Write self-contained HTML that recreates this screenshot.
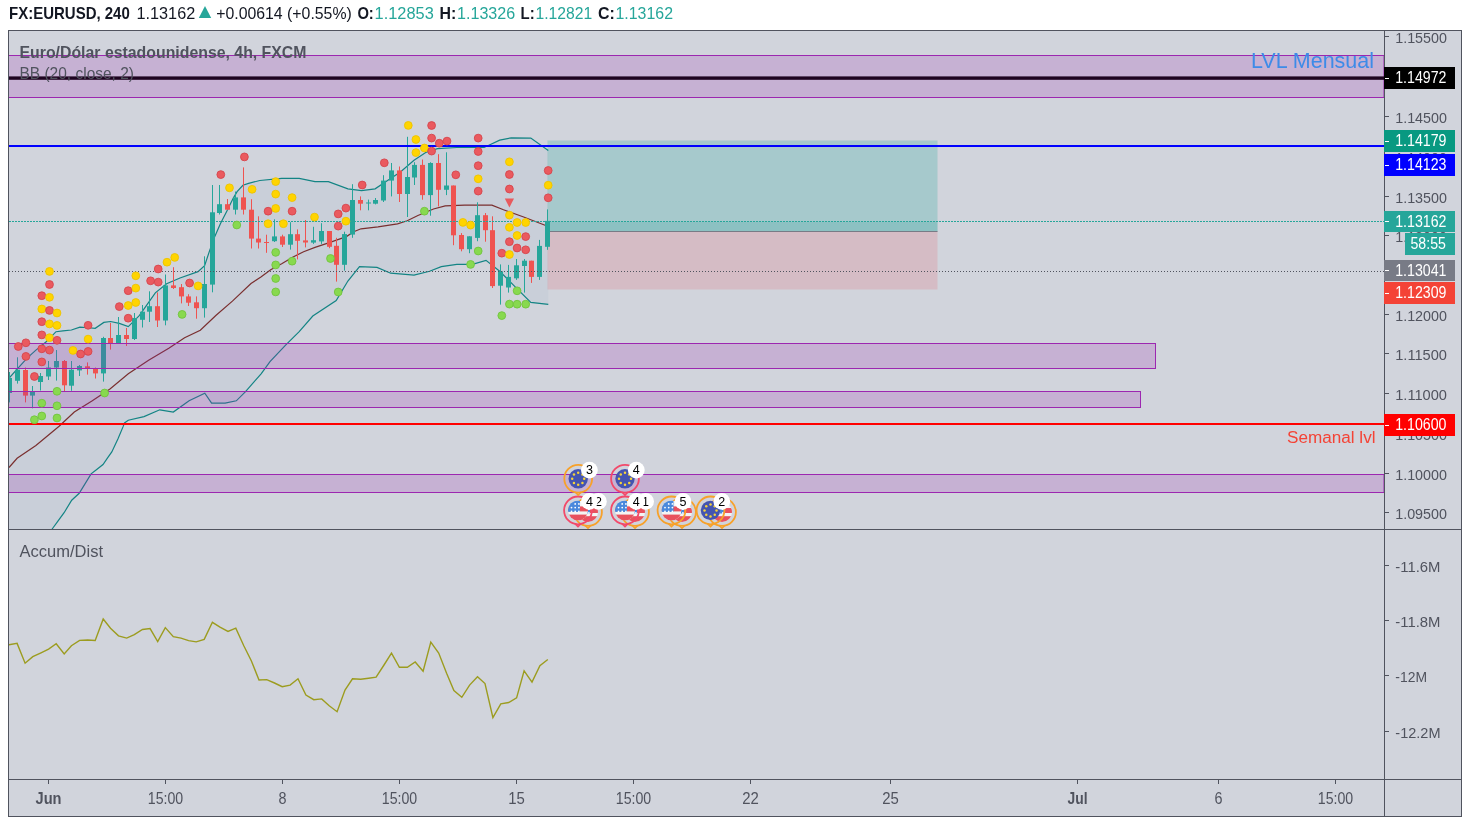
<!DOCTYPE html>
<html><head><meta charset="utf-8"><title>FX:EURUSD</title>
<style>
html,body{margin:0;padding:0;background:#fff;width:1470px;height:822px;overflow:hidden}
svg{display:block;will-change:transform}
text{font-family:"Liberation Sans", sans-serif}
</style></head><body>
<svg width="1470" height="822" viewBox="0 0 1470 822">
<rect x="0" y="0" width="1470" height="822" fill="#ffffff"/>
<rect x="8" y="30" width="1454" height="787" fill="#D1D4DC"/>

<defs><clipPath id="cm"><rect x="9" y="31" width="1375" height="498"/></clipPath><clipPath id="ci"><rect x="9" y="530" width="1375" height="249"/></clipPath></defs>
<g clip-path="url(#cm)">
<polygon points="8.7,378.5 17.8,368.3 27.1,358.1 35.6,350.4 45.9,342.0 54.4,333.4 56.0,331.7 62.9,330.9 71.4,330.0 79.9,327.1 86.7,327.5 95.2,328.3 103.8,322.4 110.6,321.5 119.3,323.4 128.3,326.6 139.5,315.3 155.3,292.8 166.6,283.8 180.0,278.0 198.0,271.6 204.6,265.7 209.7,250.4 214.8,236.4 220.5,223.6 226.9,210.9 233.3,198.1 237.1,191.7 242.9,185.3 248.6,183.4 259.8,180.5 281.7,178.3 299.2,178.3 315.0,181.6 328.4,181.7 347.9,188.8 361.5,190.7 375.1,188.8 386.8,181.0 400.4,172.0 414.0,160.3 425.7,152.5 437.4,148.7 456.8,147.5 484.1,147.5 499.7,140.1 511.3,137.8 530.8,138.1 548.3,150.6 548.3,304.4 530.8,302.4 515.2,286.8 499.7,271.3 486.0,260.4 472.4,264.3 456.8,264.3 441.3,266.6 429.6,271.3 414.0,275.2 390.7,273.2 377.0,267.4 359.5,266.6 347.9,281.0 336.2,300.5 312.8,316.0 299.2,331.6 285.6,345.2 270.0,361.6 261.1,373.8 245.3,391.8 236.3,400.8 225.1,403.1 211.6,403.1 204.8,393.2 189.1,400.8 173.3,412.1 159.8,409.8 144.0,416.6 128.3,420.2 124.5,423.0 123.0,426.9 118.0,438.8 111.8,451.9 107.4,458.2 103.0,464.5 96.7,469.5 91.1,473.9 79.2,493.3 71.7,500.2 64.1,512.7 57.2,522.1 52.9,528.0 45.0,540.0 30.0,580.0 9.0,620.0" fill="#C9CFD9" stroke="none"/>
<rect x="547.5" y="140.5" width="390" height="91" fill="rgba(38,166,154,0.25)"/>
<rect x="547.5" y="221.5" width="390" height="10" fill="rgba(38,166,154,0.2)"/>
<rect x="547.5" y="231.5" width="390" height="58" fill="rgba(242,54,69,0.15)"/>
<line x1="547.5" y1="231.5" x2="937.5" y2="231.5" stroke="#787B86" stroke-width="1"/>
<polyline points="8.7,378.5 17.8,368.3 27.1,358.1 35.6,350.4 45.9,342.0 54.4,333.4 56.0,331.7 62.9,330.9 71.4,330.0 79.9,327.1 86.7,327.5 95.2,328.3 103.8,322.4 110.6,321.5 119.3,323.4 128.3,326.6 139.5,315.3 155.3,292.8 166.6,283.8 180.0,278.0 198.0,271.6 204.6,265.7 209.7,250.4 214.8,236.4 220.5,223.6 226.9,210.9 233.3,198.1 237.1,191.7 242.9,185.3 248.6,183.4 259.8,180.5 281.7,178.3 299.2,178.3 315.0,181.6 328.4,181.7 347.9,188.8 361.5,190.7 375.1,188.8 386.8,181.0 400.4,172.0 414.0,160.3 425.7,152.5 437.4,148.7 456.8,147.5 484.1,147.5 499.7,140.1 511.3,137.8 530.8,138.1 548.3,150.6" fill="none" stroke="#138484" stroke-width="1.2"/>
<polyline points="9.0,620.0 30.0,580.0 45.0,540.0 52.9,528.0 57.2,522.1 64.1,512.7 71.7,500.2 79.2,493.3 91.1,473.9 96.7,469.5 103.0,464.5 107.4,458.2 111.8,451.9 118.0,438.8 123.0,426.9 124.5,423.0 128.3,420.2 144.0,416.6 159.8,409.8 173.3,412.1 189.1,400.8 204.8,393.2 211.6,403.1 225.1,403.1 236.3,400.8 245.3,391.8 261.1,373.8 270.0,361.6 285.6,345.2 299.2,331.6 312.8,316.0 336.2,300.5 347.9,281.0 359.5,266.6 377.0,267.4 390.7,273.2 414.0,275.2 429.6,271.3 441.3,266.6 456.8,264.3 472.4,264.3 486.0,260.4 499.7,271.3 515.2,286.8 530.8,302.4 548.3,304.4" fill="none" stroke="#138484" stroke-width="1.2"/>
<polyline points="9.0,467.5 17.1,458.3 35.9,445.5 59.1,426.3 74.3,412.1 92.3,400.8 110.3,388.7 128.3,373.8 148.6,360.3 168.8,348.2 184.6,337.8 200.3,330.2 216.1,315.3 232.4,301.1 251.0,283.5 260.9,277.0 270.7,269.7 281.7,263.8 292.6,257.2 303.6,251.8 315.0,247.4 329.3,242.6 346.4,236.6 353.7,231.7 361.0,228.8 378.0,226.8 397.5,223.9 407.2,220.7 417.9,215.5 433.5,209.0 445.2,205.9 464.6,205.1 491.9,205.1 503.5,209.8 523.0,216.8 548.3,226.5" fill="none" stroke="#7A2F2F" stroke-width="1.2"/>
<rect x="9" y="372.0" width="1" height="30.4" fill="#26A69A"/>
<rect x="7" y="378.0" width="5" height="15.0" fill="#26A69A"/>
<rect x="17" y="357.3" width="1" height="26.3" fill="#26A69A"/>
<rect x="15" y="369.7" width="5" height="11.1" fill="#26A69A"/>
<rect x="25" y="367.5" width="1" height="34.9" fill="#EF5350"/>
<rect x="23" y="370.0" width="5" height="25.6" fill="#EF5350"/>
<rect x="32" y="386.0" width="1" height="22.3" fill="#26A69A"/>
<rect x="30" y="391.8" width="5" height="3.8" fill="#26A69A"/>
<rect x="40" y="373.0" width="1" height="17.5" fill="#26A69A"/>
<rect x="38" y="376.0" width="5" height="6.0" fill="#26A69A"/>
<rect x="48" y="361.0" width="1" height="19.0" fill="#26A69A"/>
<rect x="46" y="367.5" width="5" height="9.0" fill="#26A69A"/>
<rect x="56" y="350.0" width="1" height="30.6" fill="#26A69A"/>
<rect x="54" y="361.0" width="5" height="6.5" fill="#26A69A"/>
<rect x="64" y="360.0" width="1" height="32.0" fill="#EF5350"/>
<rect x="62" y="361.0" width="5" height="24.3" fill="#EF5350"/>
<rect x="71" y="361.0" width="1" height="29.8" fill="#26A69A"/>
<rect x="69" y="369.7" width="5" height="16.0" fill="#26A69A"/>
<rect x="79" y="365.0" width="1" height="11.0" fill="#26A69A"/>
<rect x="77" y="366.0" width="5" height="4.4" fill="#26A69A"/>
<rect x="87" y="362.4" width="1" height="12.2" fill="#EF5350"/>
<rect x="85" y="366.3" width="5" height="1.7" fill="#EF5350"/>
<rect x="95" y="367.5" width="1" height="11.0" fill="#EF5350"/>
<rect x="93" y="368.7" width="5" height="4.7" fill="#EF5350"/>
<rect x="103" y="336.8" width="1" height="44.8" fill="#26A69A"/>
<rect x="101" y="338.0" width="5" height="35.4" fill="#26A69A"/>
<rect x="110" y="323.0" width="1" height="26.6" fill="#EF5350"/>
<rect x="108" y="338.0" width="5" height="5.0" fill="#EF5350"/>
<rect x="118" y="317.0" width="1" height="26.0" fill="#26A69A"/>
<rect x="116" y="335.0" width="5" height="8.0" fill="#26A69A"/>
<rect x="126" y="328.0" width="1" height="18.0" fill="#EF5350"/>
<rect x="124" y="335.0" width="5" height="4.0" fill="#EF5350"/>
<rect x="134" y="313.0" width="1" height="27.0" fill="#26A69A"/>
<rect x="132" y="318.0" width="5" height="21.0" fill="#26A69A"/>
<rect x="142" y="305.0" width="1" height="22.5" fill="#26A69A"/>
<rect x="140" y="311.7" width="5" height="8.1" fill="#26A69A"/>
<rect x="149" y="291.3" width="1" height="30.7" fill="#26A69A"/>
<rect x="147" y="306.2" width="5" height="5.5" fill="#26A69A"/>
<rect x="157" y="292.4" width="1" height="34.6" fill="#EF5350"/>
<rect x="155" y="306.2" width="5" height="14.3" fill="#EF5350"/>
<rect x="165" y="274.5" width="1" height="50.8" fill="#26A69A"/>
<rect x="163" y="285.4" width="5" height="35.1" fill="#26A69A"/>
<rect x="173" y="267.2" width="1" height="21.8" fill="#EF5350"/>
<rect x="171" y="285.4" width="5" height="2.6" fill="#EF5350"/>
<rect x="181" y="284.0" width="1" height="19.4" fill="#EF5350"/>
<rect x="179" y="287.2" width="5" height="9.2" fill="#EF5350"/>
<rect x="188" y="294.2" width="1" height="11.8" fill="#EF5350"/>
<rect x="186" y="296.4" width="5" height="6.3" fill="#EF5350"/>
<rect x="196" y="296.4" width="1" height="22.3" fill="#EF5350"/>
<rect x="194" y="302.3" width="5" height="5.9" fill="#EF5350"/>
<rect x="204" y="256.3" width="1" height="61.3" fill="#26A69A"/>
<rect x="202" y="284.0" width="5" height="24.2" fill="#26A69A"/>
<rect x="212" y="185.0" width="1" height="107.3" fill="#26A69A"/>
<rect x="210" y="212.3" width="5" height="72.3" fill="#26A69A"/>
<rect x="219" y="185.0" width="1" height="29.5" fill="#26A69A"/>
<rect x="217" y="204.2" width="5" height="8.8" fill="#26A69A"/>
<rect x="227" y="199.0" width="1" height="10.7" fill="#EF5350"/>
<rect x="225" y="204.2" width="5" height="5.5" fill="#EF5350"/>
<rect x="235" y="191.5" width="1" height="23.0" fill="#26A69A"/>
<rect x="233" y="197.4" width="5" height="12.3" fill="#26A69A"/>
<rect x="243" y="167.4" width="1" height="47.1" fill="#EF5350"/>
<rect x="241" y="197.4" width="5" height="12.3" fill="#EF5350"/>
<rect x="251" y="199.2" width="1" height="49.3" fill="#EF5350"/>
<rect x="249" y="209.7" width="5" height="28.9" fill="#EF5350"/>
<rect x="258" y="216.3" width="1" height="32.2" fill="#EF5350"/>
<rect x="256" y="238.6" width="5" height="3.9" fill="#EF5350"/>
<rect x="266" y="234.7" width="1" height="18.1" fill="#EF5350"/>
<rect x="264" y="242.0" width="5" height="1.0" fill="#EF5350"/>
<rect x="274" y="219.3" width="1" height="22.7" fill="#26A69A"/>
<rect x="272" y="236.4" width="5" height="4.8" fill="#26A69A"/>
<rect x="282" y="234.7" width="1" height="12.3" fill="#EF5350"/>
<rect x="280" y="236.4" width="5" height="8.3" fill="#EF5350"/>
<rect x="290" y="222.2" width="1" height="27.4" fill="#26A69A"/>
<rect x="288" y="234.2" width="5" height="10.5" fill="#26A69A"/>
<rect x="297" y="229.4" width="1" height="30.0" fill="#EF5350"/>
<rect x="295" y="234.2" width="5" height="6.6" fill="#EF5350"/>
<rect x="305" y="220.0" width="1" height="27.4" fill="#EF5350"/>
<rect x="303" y="240.4" width="5" height="2.1" fill="#EF5350"/>
<rect x="313" y="226.8" width="1" height="17.1" fill="#26A69A"/>
<rect x="311" y="240.2" width="5" height="2.4" fill="#26A69A"/>
<rect x="321" y="223.2" width="1" height="20.7" fill="#26A69A"/>
<rect x="319" y="231.0" width="5" height="10.4" fill="#26A69A"/>
<rect x="329" y="231.0" width="1" height="17.2" fill="#EF5350"/>
<rect x="327" y="231.0" width="5" height="15.8" fill="#EF5350"/>
<rect x="336" y="237.8" width="1" height="43.8" fill="#EF5350"/>
<rect x="334" y="245.8" width="5" height="19.0" fill="#EF5350"/>
<rect x="344" y="231.7" width="1" height="38.9" fill="#26A69A"/>
<rect x="342" y="234.1" width="5" height="30.7" fill="#26A69A"/>
<rect x="352" y="184.2" width="1" height="53.6" fill="#26A69A"/>
<rect x="350" y="200.0" width="5" height="34.6" fill="#26A69A"/>
<rect x="360" y="196.4" width="1" height="13.9" fill="#EF5350"/>
<rect x="358" y="200.0" width="5" height="3.7" fill="#EF5350"/>
<rect x="368" y="199.6" width="1" height="10.7" fill="#26A69A"/>
<rect x="366" y="202.5" width="5" height="1.0" fill="#26A69A"/>
<rect x="375" y="198.0" width="1" height="6.4" fill="#26A69A"/>
<rect x="373" y="200.0" width="5" height="3.7" fill="#26A69A"/>
<rect x="383" y="175.2" width="1" height="26.8" fill="#26A69A"/>
<rect x="381" y="180.6" width="5" height="19.9" fill="#26A69A"/>
<rect x="391" y="163.0" width="1" height="33.4" fill="#26A69A"/>
<rect x="389" y="170.4" width="5" height="10.2" fill="#26A69A"/>
<rect x="399" y="166.5" width="1" height="35.5" fill="#EF5350"/>
<rect x="397" y="170.4" width="5" height="23.6" fill="#EF5350"/>
<rect x="407" y="136.8" width="1" height="80.2" fill="#26A69A"/>
<rect x="405" y="177.0" width="5" height="17.0" fill="#26A69A"/>
<rect x="414" y="162.2" width="1" height="22.8" fill="#26A69A"/>
<rect x="412" y="164.9" width="5" height="12.6" fill="#26A69A"/>
<rect x="422" y="159.5" width="1" height="40.2" fill="#EF5350"/>
<rect x="420" y="164.9" width="5" height="30.2" fill="#EF5350"/>
<rect x="430" y="162.2" width="1" height="53.5" fill="#26A69A"/>
<rect x="428" y="163.0" width="5" height="32.1" fill="#26A69A"/>
<rect x="438" y="154.2" width="1" height="52.2" fill="#EF5350"/>
<rect x="436" y="163.0" width="5" height="26.8" fill="#EF5350"/>
<rect x="446" y="152.3" width="1" height="42.8" fill="#26A69A"/>
<rect x="444" y="185.5" width="5" height="4.3" fill="#26A69A"/>
<rect x="453" y="185.5" width="1" height="59.7" fill="#EF5350"/>
<rect x="451" y="185.5" width="5" height="49.8" fill="#EF5350"/>
<rect x="461" y="233.1" width="1" height="18.2" fill="#EF5350"/>
<rect x="459" y="235.0" width="5" height="14.2" fill="#EF5350"/>
<rect x="469" y="236.3" width="1" height="16.9" fill="#26A69A"/>
<rect x="467" y="236.3" width="5" height="12.9" fill="#26A69A"/>
<rect x="477" y="202.3" width="1" height="38.9" fill="#26A69A"/>
<rect x="475" y="215.2" width="5" height="22.7" fill="#26A69A"/>
<rect x="485" y="213.0" width="1" height="28.7" fill="#EF5350"/>
<rect x="483" y="215.2" width="5" height="15.0" fill="#EF5350"/>
<rect x="492" y="216.3" width="1" height="71.7" fill="#EF5350"/>
<rect x="490" y="230.2" width="5" height="55.9" fill="#EF5350"/>
<rect x="500" y="264.4" width="1" height="40.2" fill="#26A69A"/>
<rect x="498" y="271.3" width="5" height="14.4" fill="#26A69A"/>
<rect x="508" y="264.9" width="1" height="27.7" fill="#26A69A"/>
<rect x="506" y="276.9" width="5" height="10.6" fill="#26A69A"/>
<rect x="516" y="259.0" width="1" height="20.9" fill="#26A69A"/>
<rect x="514" y="265.3" width="5" height="13.0" fill="#26A69A"/>
<rect x="524" y="259.0" width="1" height="33.6" fill="#26A69A"/>
<rect x="522" y="260.7" width="5" height="5.3" fill="#26A69A"/>
<rect x="531" y="260.7" width="1" height="22.2" fill="#EF5350"/>
<rect x="529" y="260.7" width="5" height="16.2" fill="#EF5350"/>
<rect x="539" y="239.9" width="1" height="40.0" fill="#26A69A"/>
<rect x="537" y="245.9" width="5" height="31.0" fill="#26A69A"/>
<rect x="547" y="209.4" width="1" height="40.4" fill="#26A69A"/>
<rect x="545" y="220.9" width="5" height="25.9" fill="#26A69A"/>
<rect x="8" y="55.5" width="1376" height="42" fill="rgba(156,39,176,0.2)" stroke="#9C27B0" stroke-width="1"/>
<rect x="8" y="343.5" width="1147.5" height="25" fill="rgba(156,39,176,0.2)" stroke="#9C27B0" stroke-width="1"/>
<rect x="8" y="391.5" width="1132.5" height="16" fill="rgba(156,39,176,0.2)" stroke="#9C27B0" stroke-width="1"/>
<rect x="8" y="474.5" width="1376" height="18" fill="rgba(156,39,176,0.2)" stroke="#9C27B0" stroke-width="1"/>
<rect x="8" y="76.4" width="1376" height="3.4" fill="#1E0420"/>
<rect x="8" y="145" width="1376" height="2" fill="#0000FF"/>
<rect x="8" y="423" width="1376" height="2" fill="#FF0000"/>
<line x1="9" y1="221.5" x2="1384" y2="221.5" stroke="#26A69A" stroke-width="1" stroke-dasharray="2 1"/>
<line x1="9" y1="271.5" x2="1384" y2="271.5" stroke="#50535E" stroke-width="1" stroke-dasharray="1 2"/>
<circle cx="18.3" cy="346.5" r="3.9" fill="#EA5A5F" stroke="#D6454D" stroke-width="0.9"/>
<circle cx="25.9" cy="342.8" r="3.9" fill="#EA5A5F" stroke="#D6454D" stroke-width="0.9"/>
<circle cx="25.9" cy="356.4" r="3.9" fill="#EA5A5F" stroke="#D6454D" stroke-width="0.9"/>
<circle cx="34.4" cy="376.5" r="3.9" fill="#EA5A5F" stroke="#D6454D" stroke-width="0.9"/>
<circle cx="34.4" cy="419.7" r="3.9" fill="#88D94F" stroke="#72C43E" stroke-width="0.9"/>
<circle cx="41.8" cy="295.7" r="3.9" fill="#EA5A5F" stroke="#D6454D" stroke-width="0.9"/>
<circle cx="41.8" cy="309.0" r="3.9" fill="#FFD400" stroke="#EDC300" stroke-width="0.9"/>
<circle cx="41.8" cy="321.7" r="3.9" fill="#EA5A5F" stroke="#D6454D" stroke-width="0.9"/>
<circle cx="41.8" cy="334.9" r="3.9" fill="#EA5A5F" stroke="#D6454D" stroke-width="0.9"/>
<circle cx="41.8" cy="348.8" r="3.9" fill="#EA5A5F" stroke="#D6454D" stroke-width="0.9"/>
<circle cx="41.8" cy="361.9" r="3.9" fill="#EA5A5F" stroke="#D6454D" stroke-width="0.9"/>
<circle cx="41.8" cy="403.2" r="3.9" fill="#88D94F" stroke="#72C43E" stroke-width="0.9"/>
<circle cx="41.8" cy="416.0" r="3.9" fill="#88D94F" stroke="#72C43E" stroke-width="0.9"/>
<circle cx="49.5" cy="271.4" r="3.9" fill="#FFD400" stroke="#EDC300" stroke-width="0.9"/>
<circle cx="49.5" cy="284.5" r="3.9" fill="#EA5A5F" stroke="#D6454D" stroke-width="0.9"/>
<circle cx="49.5" cy="297.3" r="3.9" fill="#FFD400" stroke="#EDC300" stroke-width="0.9"/>
<circle cx="49.5" cy="310.4" r="3.9" fill="#EA5A5F" stroke="#D6454D" stroke-width="0.9"/>
<circle cx="49.5" cy="323.9" r="3.9" fill="#FFD400" stroke="#EDC300" stroke-width="0.9"/>
<circle cx="49.5" cy="337.7" r="3.9" fill="#FFD400" stroke="#EDC300" stroke-width="0.9"/>
<circle cx="49.5" cy="350.1" r="3.9" fill="#EA5A5F" stroke="#D6454D" stroke-width="0.9"/>
<circle cx="57.0" cy="313.0" r="3.9" fill="#FFD400" stroke="#EDC300" stroke-width="0.9"/>
<circle cx="57.0" cy="325.4" r="3.9" fill="#FFD400" stroke="#EDC300" stroke-width="0.9"/>
<circle cx="57.0" cy="340.3" r="3.9" fill="#EA5A5F" stroke="#D6454D" stroke-width="0.9"/>
<circle cx="57.0" cy="391.3" r="3.9" fill="#88D94F" stroke="#72C43E" stroke-width="0.9"/>
<circle cx="57.0" cy="405.8" r="3.9" fill="#88D94F" stroke="#72C43E" stroke-width="0.9"/>
<circle cx="57.0" cy="418.0" r="3.9" fill="#88D94F" stroke="#72C43E" stroke-width="0.9"/>
<circle cx="73.0" cy="350.4" r="3.9" fill="#FFD400" stroke="#EDC300" stroke-width="0.9"/>
<circle cx="80.6" cy="354.0" r="3.9" fill="#EA5A5F" stroke="#D6454D" stroke-width="0.9"/>
<circle cx="88.1" cy="325.3" r="3.9" fill="#EA5A5F" stroke="#D6454D" stroke-width="0.9"/>
<circle cx="88.1" cy="339.1" r="3.9" fill="#FFD400" stroke="#EDC300" stroke-width="0.9"/>
<circle cx="88.1" cy="351.4" r="3.9" fill="#EA5A5F" stroke="#D6454D" stroke-width="0.9"/>
<circle cx="104.6" cy="393.0" r="3.9" fill="#88D94F" stroke="#72C43E" stroke-width="0.9"/>
<circle cx="119.3" cy="306.6" r="3.9" fill="#EA5A5F" stroke="#D6454D" stroke-width="0.9"/>
<circle cx="128.2" cy="290.7" r="3.9" fill="#EA5A5F" stroke="#D6454D" stroke-width="0.9"/>
<circle cx="128.2" cy="305.5" r="3.9" fill="#FFD400" stroke="#EDC300" stroke-width="0.9"/>
<circle cx="128.2" cy="318.2" r="3.9" fill="#EA5A5F" stroke="#D6454D" stroke-width="0.9"/>
<circle cx="135.8" cy="275.8" r="3.9" fill="#FFD400" stroke="#EDC300" stroke-width="0.9"/>
<circle cx="135.8" cy="288.1" r="3.9" fill="#FFD400" stroke="#EDC300" stroke-width="0.9"/>
<circle cx="135.8" cy="302.5" r="3.9" fill="#FFD400" stroke="#EDC300" stroke-width="0.9"/>
<circle cx="150.6" cy="280.8" r="3.9" fill="#EA5A5F" stroke="#D6454D" stroke-width="0.9"/>
<circle cx="158.2" cy="269.0" r="3.9" fill="#EA5A5F" stroke="#D6454D" stroke-width="0.9"/>
<circle cx="158.2" cy="282.1" r="3.9" fill="#EA5A5F" stroke="#D6454D" stroke-width="0.9"/>
<circle cx="167.0" cy="262.2" r="3.9" fill="#FFD400" stroke="#EDC300" stroke-width="0.9"/>
<circle cx="174.7" cy="257.4" r="3.9" fill="#FFD400" stroke="#EDC300" stroke-width="0.9"/>
<circle cx="182.1" cy="314.4" r="3.9" fill="#88D94F" stroke="#72C43E" stroke-width="0.9"/>
<circle cx="189.6" cy="283.0" r="3.9" fill="#EA5A5F" stroke="#D6454D" stroke-width="0.9"/>
<circle cx="198.1" cy="285.9" r="3.9" fill="#FFD400" stroke="#EDC300" stroke-width="0.9"/>
<circle cx="220.8" cy="174.6" r="3.9" fill="#EA5A5F" stroke="#D6454D" stroke-width="0.9"/>
<circle cx="229.5" cy="187.8" r="3.9" fill="#FFD400" stroke="#EDC300" stroke-width="0.9"/>
<circle cx="236.8" cy="225.0" r="3.9" fill="#88D94F" stroke="#72C43E" stroke-width="0.9"/>
<circle cx="244.4" cy="156.9" r="3.9" fill="#EA5A5F" stroke="#D6454D" stroke-width="0.9"/>
<circle cx="252.1" cy="189.3" r="3.9" fill="#FFD400" stroke="#EDC300" stroke-width="0.9"/>
<circle cx="268.1" cy="211.2" r="3.9" fill="#EA5A5F" stroke="#D6454D" stroke-width="0.9"/>
<circle cx="268.1" cy="223.7" r="3.9" fill="#FFD400" stroke="#EDC300" stroke-width="0.9"/>
<circle cx="275.7" cy="181.6" r="3.9" fill="#FFD400" stroke="#EDC300" stroke-width="0.9"/>
<circle cx="275.7" cy="194.1" r="3.9" fill="#FFD400" stroke="#EDC300" stroke-width="0.9"/>
<circle cx="275.7" cy="208.4" r="3.9" fill="#FFD400" stroke="#EDC300" stroke-width="0.9"/>
<circle cx="275.7" cy="252.4" r="3.9" fill="#88D94F" stroke="#72C43E" stroke-width="0.9"/>
<circle cx="275.7" cy="264.9" r="3.9" fill="#88D94F" stroke="#72C43E" stroke-width="0.9"/>
<circle cx="275.7" cy="278.5" r="3.9" fill="#88D94F" stroke="#72C43E" stroke-width="0.9"/>
<circle cx="275.7" cy="291.9" r="3.9" fill="#88D94F" stroke="#72C43E" stroke-width="0.9"/>
<circle cx="283.4" cy="223.7" r="3.9" fill="#FFD400" stroke="#EDC300" stroke-width="0.9"/>
<circle cx="292.1" cy="197.6" r="3.9" fill="#FFD400" stroke="#EDC300" stroke-width="0.9"/>
<circle cx="292.1" cy="211.2" r="3.9" fill="#EA5A5F" stroke="#D6454D" stroke-width="0.9"/>
<circle cx="292.1" cy="261.2" r="3.9" fill="#88D94F" stroke="#72C43E" stroke-width="0.9"/>
<circle cx="314.5" cy="217.1" r="3.9" fill="#FFD400" stroke="#EDC300" stroke-width="0.9"/>
<circle cx="330.5" cy="258.5" r="3.9" fill="#88D94F" stroke="#72C43E" stroke-width="0.9"/>
<circle cx="338.2" cy="213.9" r="3.9" fill="#EA5A5F" stroke="#D6454D" stroke-width="0.9"/>
<circle cx="338.2" cy="226.1" r="3.9" fill="#EA5A5F" stroke="#D6454D" stroke-width="0.9"/>
<circle cx="338.2" cy="292.0" r="3.9" fill="#88D94F" stroke="#72C43E" stroke-width="0.9"/>
<circle cx="345.9" cy="208.1" r="3.9" fill="#EA5A5F" stroke="#D6454D" stroke-width="0.9"/>
<circle cx="345.9" cy="221.2" r="3.9" fill="#FFD400" stroke="#EDC300" stroke-width="0.9"/>
<circle cx="362.2" cy="185.0" r="3.9" fill="#EA5A5F" stroke="#D6454D" stroke-width="0.9"/>
<circle cx="384.3" cy="162.8" r="3.9" fill="#EA5A5F" stroke="#D6454D" stroke-width="0.9"/>
<circle cx="408.3" cy="125.4" r="3.9" fill="#FFD400" stroke="#EDC300" stroke-width="0.9"/>
<circle cx="415.9" cy="139.5" r="3.9" fill="#FFD400" stroke="#EDC300" stroke-width="0.9"/>
<circle cx="415.9" cy="152.6" r="3.9" fill="#FFD400" stroke="#EDC300" stroke-width="0.9"/>
<circle cx="424.4" cy="148.0" r="3.9" fill="#FFD400" stroke="#EDC300" stroke-width="0.9"/>
<circle cx="424.4" cy="211.2" r="3.9" fill="#88D94F" stroke="#72C43E" stroke-width="0.9"/>
<circle cx="431.6" cy="125.5" r="3.9" fill="#EA5A5F" stroke="#D6454D" stroke-width="0.9"/>
<circle cx="431.6" cy="138.1" r="3.9" fill="#EA5A5F" stroke="#D6454D" stroke-width="0.9"/>
<circle cx="431.6" cy="151.1" r="3.9" fill="#EA5A5F" stroke="#D6454D" stroke-width="0.9"/>
<circle cx="439.3" cy="143.2" r="3.9" fill="#EA5A5F" stroke="#D6454D" stroke-width="0.9"/>
<circle cx="447.0" cy="141.1" r="3.9" fill="#EA5A5F" stroke="#D6454D" stroke-width="0.9"/>
<circle cx="455.8" cy="174.8" r="3.9" fill="#EA5A5F" stroke="#D6454D" stroke-width="0.9"/>
<circle cx="462.9" cy="222.4" r="3.9" fill="#FFD400" stroke="#EDC300" stroke-width="0.9"/>
<circle cx="470.6" cy="225.1" r="3.9" fill="#FFD400" stroke="#EDC300" stroke-width="0.9"/>
<circle cx="470.6" cy="264.4" r="3.9" fill="#88D94F" stroke="#72C43E" stroke-width="0.9"/>
<circle cx="478.2" cy="138.1" r="3.9" fill="#EA5A5F" stroke="#D6454D" stroke-width="0.9"/>
<circle cx="478.2" cy="151.5" r="3.9" fill="#EA5A5F" stroke="#D6454D" stroke-width="0.9"/>
<circle cx="478.2" cy="165.7" r="3.9" fill="#EA5A5F" stroke="#D6454D" stroke-width="0.9"/>
<circle cx="478.2" cy="178.8" r="3.9" fill="#FFD400" stroke="#EDC300" stroke-width="0.9"/>
<circle cx="478.2" cy="191.1" r="3.9" fill="#EA5A5F" stroke="#D6454D" stroke-width="0.9"/>
<circle cx="478.2" cy="251.0" r="3.9" fill="#88D94F" stroke="#72C43E" stroke-width="0.9"/>
<circle cx="501.8" cy="253.2" r="3.9" fill="#EA5A5F" stroke="#D6454D" stroke-width="0.9"/>
<circle cx="501.8" cy="315.6" r="3.9" fill="#88D94F" stroke="#72C43E" stroke-width="0.9"/>
<circle cx="509.4" cy="161.8" r="3.9" fill="#FFD400" stroke="#EDC300" stroke-width="0.9"/>
<circle cx="509.4" cy="174.5" r="3.9" fill="#EA5A5F" stroke="#D6454D" stroke-width="0.9"/>
<circle cx="509.4" cy="189.0" r="3.9" fill="#EA5A5F" stroke="#D6454D" stroke-width="0.9"/>
<circle cx="509.4" cy="215.1" r="3.9" fill="#FFD400" stroke="#EDC300" stroke-width="0.9"/>
<circle cx="509.4" cy="227.3" r="3.9" fill="#FFD400" stroke="#EDC300" stroke-width="0.9"/>
<circle cx="509.4" cy="241.7" r="3.9" fill="#EA5A5F" stroke="#D6454D" stroke-width="0.9"/>
<circle cx="509.4" cy="254.5" r="3.9" fill="#FFD400" stroke="#EDC300" stroke-width="0.9"/>
<circle cx="509.4" cy="304.1" r="3.9" fill="#88D94F" stroke="#72C43E" stroke-width="0.9"/>
<circle cx="517.1" cy="222.5" r="3.9" fill="#FFD400" stroke="#EDC300" stroke-width="0.9"/>
<circle cx="517.1" cy="235.5" r="3.9" fill="#FFD400" stroke="#EDC300" stroke-width="0.9"/>
<circle cx="517.1" cy="248.0" r="3.9" fill="#EA5A5F" stroke="#D6454D" stroke-width="0.9"/>
<circle cx="517.1" cy="290.8" r="3.9" fill="#88D94F" stroke="#72C43E" stroke-width="0.9"/>
<circle cx="517.1" cy="304.2" r="3.9" fill="#88D94F" stroke="#72C43E" stroke-width="0.9"/>
<circle cx="525.7" cy="222.5" r="3.9" fill="#FFD400" stroke="#EDC300" stroke-width="0.9"/>
<circle cx="525.7" cy="236.6" r="3.9" fill="#EA5A5F" stroke="#D6454D" stroke-width="0.9"/>
<circle cx="525.7" cy="249.8" r="3.9" fill="#EA5A5F" stroke="#D6454D" stroke-width="0.9"/>
<circle cx="525.7" cy="304.2" r="3.9" fill="#88D94F" stroke="#72C43E" stroke-width="0.9"/>
<circle cx="548.2" cy="170.5" r="3.9" fill="#EA5A5F" stroke="#D6454D" stroke-width="0.9"/>
<circle cx="548.2" cy="185.2" r="3.9" fill="#FFD400" stroke="#EDC300" stroke-width="0.9"/>
<circle cx="548.2" cy="197.8" r="3.9" fill="#EA5A5F" stroke="#D6454D" stroke-width="0.9"/>
<polygon points="504.8,198.6 514.0,198.6 509.4,207.6" fill="#E85A5E"/>
<defs><clipPath id="fl1"><circle cx="0" cy="0" r="10"/></clipPath></defs>
<g transform="translate(588,512)" clip-path="url(#fl1)">
<rect x="-10" y="-10" width="20" height="20" fill="#F4F4F4"/>
<rect x="-10" y="-4" width="20" height="5" fill="#E8515E"/>
<rect x="-10" y="4.2" width="20" height="6" fill="#E8515E"/>
<rect x="-10" y="-10" width="12" height="11.5" fill="#4A89DC"/>
<circle cx="-2.8" cy="-6.5" r="0.9" fill="#fff"/>
<circle cx="0.9" cy="-6.5" r="0.9" fill="#fff"/>
<circle cx="-6.5" cy="-2.8" r="0.9" fill="#fff"/>
<circle cx="-2.8" cy="-2.8" r="0.9" fill="#fff"/>
<circle cx="0.9" cy="-2.8" r="0.9" fill="#fff"/>
<circle cx="-6.5" cy="0.9" r="0.9" fill="#fff"/>
<circle cx="-2.8" cy="0.9" r="0.9" fill="#fff"/>
<circle cx="0.9" cy="0.9" r="0.9" fill="#fff"/>
</g>
<circle cx="588" cy="512" r="13.9" fill="none" stroke="#F7A12A" stroke-width="1.8"/>
<path d="M585,525.2 l3,3 l3,-3" fill="none" stroke="#F7A12A" stroke-width="1.6"/>
<g transform="translate(635,512)" clip-path="url(#fl1)">
<rect x="-10" y="-10" width="20" height="20" fill="#F4F4F4"/>
<rect x="-10" y="-4" width="20" height="5" fill="#E8515E"/>
<rect x="-10" y="4.2" width="20" height="6" fill="#E8515E"/>
<rect x="-10" y="-10" width="12" height="11.5" fill="#4A89DC"/>
<circle cx="-2.8" cy="-6.5" r="0.9" fill="#fff"/>
<circle cx="0.9" cy="-6.5" r="0.9" fill="#fff"/>
<circle cx="-6.5" cy="-2.8" r="0.9" fill="#fff"/>
<circle cx="-2.8" cy="-2.8" r="0.9" fill="#fff"/>
<circle cx="0.9" cy="-2.8" r="0.9" fill="#fff"/>
<circle cx="-6.5" cy="0.9" r="0.9" fill="#fff"/>
<circle cx="-2.8" cy="0.9" r="0.9" fill="#fff"/>
<circle cx="0.9" cy="0.9" r="0.9" fill="#fff"/>
</g>
<circle cx="635" cy="512" r="13.9" fill="none" stroke="#F7A12A" stroke-width="1.8"/>
<path d="M632,525.2 l3,3 l3,-3" fill="none" stroke="#F7A12A" stroke-width="1.6"/>
<g transform="translate(682,512)" clip-path="url(#fl1)">
<rect x="-10" y="-10" width="20" height="20" fill="#F4F4F4"/>
<rect x="-10" y="-4" width="20" height="5" fill="#E8515E"/>
<rect x="-10" y="4.2" width="20" height="6" fill="#E8515E"/>
<rect x="-10" y="-10" width="12" height="11.5" fill="#4A89DC"/>
<circle cx="-2.8" cy="-6.5" r="0.9" fill="#fff"/>
<circle cx="0.9" cy="-6.5" r="0.9" fill="#fff"/>
<circle cx="-6.5" cy="-2.8" r="0.9" fill="#fff"/>
<circle cx="-2.8" cy="-2.8" r="0.9" fill="#fff"/>
<circle cx="0.9" cy="-2.8" r="0.9" fill="#fff"/>
<circle cx="-6.5" cy="0.9" r="0.9" fill="#fff"/>
<circle cx="-2.8" cy="0.9" r="0.9" fill="#fff"/>
<circle cx="0.9" cy="0.9" r="0.9" fill="#fff"/>
</g>
<circle cx="682" cy="512" r="13.9" fill="none" stroke="#F7A12A" stroke-width="1.8"/>
<path d="M679,525.2 l3,3 l3,-3" fill="none" stroke="#F7A12A" stroke-width="1.6"/>
<g transform="translate(722,512)" clip-path="url(#fl1)">
<rect x="-10" y="-10" width="20" height="20" fill="#F4F4F4"/>
<rect x="-10" y="-4" width="20" height="5" fill="#E8515E"/>
<rect x="-10" y="4.2" width="20" height="6" fill="#E8515E"/>
<rect x="-10" y="-10" width="12" height="11.5" fill="#4A89DC"/>
<circle cx="-2.8" cy="-6.5" r="0.9" fill="#fff"/>
<circle cx="0.9" cy="-6.5" r="0.9" fill="#fff"/>
<circle cx="-6.5" cy="-2.8" r="0.9" fill="#fff"/>
<circle cx="-2.8" cy="-2.8" r="0.9" fill="#fff"/>
<circle cx="0.9" cy="-2.8" r="0.9" fill="#fff"/>
<circle cx="-6.5" cy="0.9" r="0.9" fill="#fff"/>
<circle cx="-2.8" cy="0.9" r="0.9" fill="#fff"/>
<circle cx="0.9" cy="0.9" r="0.9" fill="#fff"/>
</g>
<circle cx="722" cy="512" r="13.9" fill="none" stroke="#F7A12A" stroke-width="1.8"/>
<path d="M719,525.2 l3,3 l3,-3" fill="none" stroke="#F7A12A" stroke-width="1.6"/>
<g transform="translate(578,510.4)" clip-path="url(#fl1)">
<rect x="-10" y="-10" width="20" height="20" fill="#F4F4F4"/>
<rect x="-10" y="-4" width="20" height="5" fill="#E8515E"/>
<rect x="-10" y="4.2" width="20" height="6" fill="#E8515E"/>
<rect x="-10" y="-10" width="12" height="11.5" fill="#4A89DC"/>
<circle cx="-2.8" cy="-6.5" r="0.9" fill="#fff"/>
<circle cx="0.9" cy="-6.5" r="0.9" fill="#fff"/>
<circle cx="-6.5" cy="-2.8" r="0.9" fill="#fff"/>
<circle cx="-2.8" cy="-2.8" r="0.9" fill="#fff"/>
<circle cx="0.9" cy="-2.8" r="0.9" fill="#fff"/>
<circle cx="-6.5" cy="0.9" r="0.9" fill="#fff"/>
<circle cx="-2.8" cy="0.9" r="0.9" fill="#fff"/>
<circle cx="0.9" cy="0.9" r="0.9" fill="#fff"/>
</g>
<circle cx="578" cy="510.4" r="13.9" fill="none" stroke="#F2496A" stroke-width="1.8"/>
<path d="M575,523.6 l3,3 l3,-3" fill="none" stroke="#F2496A" stroke-width="1.6"/>
<g transform="translate(625,510.4)" clip-path="url(#fl1)">
<rect x="-10" y="-10" width="20" height="20" fill="#F4F4F4"/>
<rect x="-10" y="-4" width="20" height="5" fill="#E8515E"/>
<rect x="-10" y="4.2" width="20" height="6" fill="#E8515E"/>
<rect x="-10" y="-10" width="12" height="11.5" fill="#4A89DC"/>
<circle cx="-2.8" cy="-6.5" r="0.9" fill="#fff"/>
<circle cx="0.9" cy="-6.5" r="0.9" fill="#fff"/>
<circle cx="-6.5" cy="-2.8" r="0.9" fill="#fff"/>
<circle cx="-2.8" cy="-2.8" r="0.9" fill="#fff"/>
<circle cx="0.9" cy="-2.8" r="0.9" fill="#fff"/>
<circle cx="-6.5" cy="0.9" r="0.9" fill="#fff"/>
<circle cx="-2.8" cy="0.9" r="0.9" fill="#fff"/>
<circle cx="0.9" cy="0.9" r="0.9" fill="#fff"/>
</g>
<circle cx="625" cy="510.4" r="13.9" fill="none" stroke="#F2496A" stroke-width="1.8"/>
<path d="M622,523.6 l3,3 l3,-3" fill="none" stroke="#F2496A" stroke-width="1.6"/>
<g transform="translate(671.5,510.4)" clip-path="url(#fl1)">
<rect x="-10" y="-10" width="20" height="20" fill="#F4F4F4"/>
<rect x="-10" y="-4" width="20" height="5" fill="#E8515E"/>
<rect x="-10" y="4.2" width="20" height="6" fill="#E8515E"/>
<rect x="-10" y="-10" width="12" height="11.5" fill="#4A89DC"/>
<circle cx="-2.8" cy="-6.5" r="0.9" fill="#fff"/>
<circle cx="0.9" cy="-6.5" r="0.9" fill="#fff"/>
<circle cx="-6.5" cy="-2.8" r="0.9" fill="#fff"/>
<circle cx="-2.8" cy="-2.8" r="0.9" fill="#fff"/>
<circle cx="0.9" cy="-2.8" r="0.9" fill="#fff"/>
<circle cx="-6.5" cy="0.9" r="0.9" fill="#fff"/>
<circle cx="-2.8" cy="0.9" r="0.9" fill="#fff"/>
<circle cx="0.9" cy="0.9" r="0.9" fill="#fff"/>
</g>
<circle cx="671.5" cy="510.4" r="13.9" fill="none" stroke="#F7A12A" stroke-width="1.8"/>
<path d="M668.5,523.6 l3,3 l3,-3" fill="none" stroke="#F7A12A" stroke-width="1.6"/>
<circle cx="710.5" cy="510.4" r="9.7" fill="#4454B0"/>
<circle cx="716.50" cy="510.40" r="1.25" fill="#F5D33A"/>
<circle cx="714.74" cy="514.64" r="1.25" fill="#F5D33A"/>
<circle cx="710.50" cy="516.40" r="1.25" fill="#F5D33A"/>
<circle cx="706.26" cy="514.64" r="1.25" fill="#F5D33A"/>
<circle cx="704.50" cy="510.40" r="1.25" fill="#F5D33A"/>
<circle cx="706.26" cy="506.16" r="1.25" fill="#F5D33A"/>
<circle cx="710.50" cy="504.40" r="1.25" fill="#F5D33A"/>
<circle cx="714.74" cy="506.16" r="1.25" fill="#F5D33A"/>
<circle cx="710.5" cy="510.4" r="13.9" fill="none" stroke="#F7A12A" stroke-width="1.8"/>
<path d="M707.5,523.6 l3,3 l3,-3" fill="none" stroke="#F7A12A" stroke-width="1.6"/>
<circle cx="578.2" cy="478.8" r="9.7" fill="#4454B0"/>
<circle cx="584.20" cy="478.80" r="1.25" fill="#F5D33A"/>
<circle cx="582.44" cy="483.04" r="1.25" fill="#F5D33A"/>
<circle cx="578.20" cy="484.80" r="1.25" fill="#F5D33A"/>
<circle cx="573.96" cy="483.04" r="1.25" fill="#F5D33A"/>
<circle cx="572.20" cy="478.80" r="1.25" fill="#F5D33A"/>
<circle cx="573.96" cy="474.56" r="1.25" fill="#F5D33A"/>
<circle cx="578.20" cy="472.80" r="1.25" fill="#F5D33A"/>
<circle cx="582.44" cy="474.56" r="1.25" fill="#F5D33A"/>
<circle cx="578.2" cy="478.8" r="13.9" fill="none" stroke="#F7A12A" stroke-width="1.8"/>
<path d="M575.2,492.0 l3,3 l3,-3" fill="none" stroke="#F7A12A" stroke-width="1.6"/>
<circle cx="625" cy="478.8" r="9.7" fill="#4454B0"/>
<circle cx="631.00" cy="478.80" r="1.25" fill="#F5D33A"/>
<circle cx="629.24" cy="483.04" r="1.25" fill="#F5D33A"/>
<circle cx="625.00" cy="484.80" r="1.25" fill="#F5D33A"/>
<circle cx="620.76" cy="483.04" r="1.25" fill="#F5D33A"/>
<circle cx="619.00" cy="478.80" r="1.25" fill="#F5D33A"/>
<circle cx="620.76" cy="474.56" r="1.25" fill="#F5D33A"/>
<circle cx="625.00" cy="472.80" r="1.25" fill="#F5D33A"/>
<circle cx="629.24" cy="474.56" r="1.25" fill="#F5D33A"/>
<circle cx="625" cy="478.8" r="13.9" fill="none" stroke="#F2496A" stroke-width="1.8"/>
<path d="M622,492.0 l3,3 l3,-3" fill="none" stroke="#F2496A" stroke-width="1.6"/>
<circle cx="589.4" cy="470.1" r="8.4" fill="#fff"/>
<text x="589.4" y="474.40000000000003" font-size="12.5" fill="#000" text-anchor="middle">3</text>
<circle cx="636.3" cy="470.1" r="8.4" fill="#fff"/>
<text x="636.3" y="474.40000000000003" font-size="12.5" fill="#000" text-anchor="middle">4</text>
<circle cx="598.4" cy="501.4" r="8.4" fill="#fff"/>
<text x="598.4" y="505.7" font-size="12.5" fill="#000" text-anchor="middle">2</text>
<circle cx="589.4" cy="501.4" r="8.4" fill="#fff"/>
<text x="589.4" y="505.7" font-size="12.5" fill="#000" text-anchor="middle">4</text>
<circle cx="645.6" cy="501.4" r="8.4" fill="#fff"/>
<text x="645.6" y="505.7" font-size="12.5" fill="#000" text-anchor="middle">1</text>
<circle cx="636.3" cy="501.4" r="8.4" fill="#fff"/>
<text x="636.3" y="505.7" font-size="12.5" fill="#000" text-anchor="middle">4</text>
<circle cx="683" cy="501.4" r="8.4" fill="#fff"/>
<text x="683" y="505.7" font-size="12.5" fill="#000" text-anchor="middle">5</text>
<circle cx="721.8" cy="501.4" r="8.4" fill="#fff"/>
<text x="721.8" y="505.7" font-size="12.5" fill="#000" text-anchor="middle">2</text>
<text x="1251" y="67.8" font-size="21.5" fill="#3D8BE8" textLength="123" lengthAdjust="spacingAndGlyphs">LVL Mensual</text>
<text x="1287" y="442.6" font-size="15.8" fill="#F44336" textLength="88.5" lengthAdjust="spacingAndGlyphs">Semanal lvl</text>
</g>
<g clip-path="url(#ci)">
<polyline points="8.6,644.8 17.1,643.4 25.1,663.2 32.8,656.6 41.0,652.8 48.6,649.1 56.2,643.8 64.2,653.9 71.4,645.7 79.6,640.4 87.6,640.0 95.2,640.4 103.2,619.0 110.5,628.2 118.5,635.8 126.7,638.1 134.3,634.7 142.5,629.5 150.1,628.6 157.7,641.5 165.3,627.6 173.3,636.6 181.0,638.1 188.6,640.6 196.2,641.9 204.2,639.4 212.4,622.3 220.0,627.2 228.0,631.4 235.8,628.2 243.8,645.7 251.4,661.0 259.0,680.0 266.7,679.6 274.5,683.0 282.2,686.7 290.1,685.1 298.0,678.8 305.9,695.0 313.8,699.7 321.7,698.9 329.2,705.8 337.1,711.7 345.0,690.0 352.5,678.8 360.7,679.2 368.6,678.2 376.1,677.2 384.0,665.0 391.5,653.1 399.4,667.3 407.3,667.3 415.2,662.0 423.1,671.3 430.8,642.1 438.7,653.1 446.6,673.3 453.9,690.6 461.8,697.3 469.6,685.1 477.5,676.8 485.0,683.5 492.9,717.7 500.8,703.8 508.7,702.5 516.6,697.9 524.1,670.9 532.0,682.1 539.9,665.8 547.8,659.5" fill="none" stroke="#9C9C1F" stroke-width="1.4"/>
</g>
<text x="19.5" y="57.9" font-size="17" fill="#50535E" font-weight="bold" textLength="287.0" lengthAdjust="spacingAndGlyphs">Euro/Dólar estadounidense, 4h, FXCM</text>
<text x="19.5" y="79.4" font-size="16.5" fill="#50535E" textLength="114.5" lengthAdjust="spacingAndGlyphs">BB (20, close, 2)</text>
<text x="19.5" y="556.8" font-size="17" fill="#50535E" textLength="83.5" lengthAdjust="spacingAndGlyphs">Accum/Dist</text>
<rect x="8.5" y="30.5" width="1453" height="786" fill="none" stroke="#50535E" stroke-width="1"/>
<rect x="1384" y="30" width="1" height="786" fill="#50535E"/>
<rect x="8" y="529" width="1454" height="1" fill="#50535E"/>
<rect x="8" y="779" width="1454" height="1" fill="#50535E"/>
<rect x="1385" y="36" width="4" height="1" fill="#50535E"/>
<text x="1395.2" y="42.8" font-size="15.4" fill="#50535E" textLength="51.799999999999955" lengthAdjust="spacingAndGlyphs">1.15500</text>
<rect x="1385" y="116" width="4" height="1" fill="#50535E"/>
<text x="1395.2" y="122.8" font-size="15.4" fill="#50535E" textLength="51.799999999999955" lengthAdjust="spacingAndGlyphs">1.14500</text>
<rect x="1385" y="156" width="4" height="1" fill="#50535E"/>
<text x="1395.2" y="162.8" font-size="15.4" fill="#50535E" textLength="51.799999999999955" lengthAdjust="spacingAndGlyphs">1.14000</text>
<rect x="1385" y="196" width="4" height="1" fill="#50535E"/>
<text x="1395.2" y="202.8" font-size="15.4" fill="#50535E" textLength="51.799999999999955" lengthAdjust="spacingAndGlyphs">1.13500</text>
<rect x="1385" y="235" width="4" height="1" fill="#50535E"/>
<text x="1395.2" y="241.8" font-size="15.4" fill="#50535E" textLength="51.799999999999955" lengthAdjust="spacingAndGlyphs">1.13000</text>
<rect x="1385" y="314" width="4" height="1" fill="#50535E"/>
<text x="1395.2" y="320.8" font-size="15.4" fill="#50535E" textLength="51.799999999999955" lengthAdjust="spacingAndGlyphs">1.12000</text>
<rect x="1385" y="353" width="4" height="1" fill="#50535E"/>
<text x="1395.2" y="359.8" font-size="15.4" fill="#50535E" textLength="51.799999999999955" lengthAdjust="spacingAndGlyphs">1.11500</text>
<rect x="1385" y="393" width="4" height="1" fill="#50535E"/>
<text x="1395.2" y="399.8" font-size="15.4" fill="#50535E" textLength="51.799999999999955" lengthAdjust="spacingAndGlyphs">1.11000</text>
<rect x="1385" y="433" width="4" height="1" fill="#50535E"/>
<text x="1395.2" y="439.8" font-size="15.4" fill="#50535E" textLength="51.799999999999955" lengthAdjust="spacingAndGlyphs">1.10500</text>
<rect x="1385" y="473" width="4" height="1" fill="#50535E"/>
<text x="1395.2" y="479.8" font-size="15.4" fill="#50535E" textLength="51.799999999999955" lengthAdjust="spacingAndGlyphs">1.10000</text>
<rect x="1385" y="512" width="4" height="1" fill="#50535E"/>
<text x="1395.2" y="518.8" font-size="15.4" fill="#50535E" textLength="51.799999999999955" lengthAdjust="spacingAndGlyphs">1.09500</text>
<rect x="1384" y="67" width="71" height="22" fill="#000000"/>
<rect x="1385" y="78" width="4" height="1" fill="#fff"/>
<text x="1395.2" y="83.3" font-size="16.2" fill="#fff" textLength="51.200000000000045" lengthAdjust="spacingAndGlyphs">1.14972</text>
<rect x="1384" y="130" width="71" height="22" fill="#089981"/>
<rect x="1385" y="141" width="4" height="1" fill="#fff"/>
<text x="1395.2" y="146.3" font-size="16.2" fill="#fff" textLength="51.200000000000045" lengthAdjust="spacingAndGlyphs">1.14179</text>
<rect x="1384" y="154" width="71" height="22" fill="#0000FF"/>
<rect x="1385" y="165" width="4" height="1" fill="#fff"/>
<text x="1395.2" y="170.3" font-size="16.2" fill="#fff" textLength="51.200000000000045" lengthAdjust="spacingAndGlyphs">1.14123</text>
<rect x="1384" y="211" width="71" height="21" fill="#26A69A"/>
<rect x="1385" y="221" width="4" height="1" fill="#fff"/>
<text x="1395.2" y="226.8" font-size="16.2" fill="#fff" textLength="51.200000000000045" lengthAdjust="spacingAndGlyphs">1.13162</text>
<rect x="1405" y="233" width="50" height="22" fill="#26A69A"/>
<text x="1410.5" y="249.3" font-size="16.2" fill="#fff" textLength="35.40000000000009" lengthAdjust="spacingAndGlyphs">58:55</text>
<rect x="1384" y="260" width="71" height="21" fill="#787B86"/>
<rect x="1385" y="270" width="4" height="1" fill="#fff"/>
<text x="1395.2" y="275.8" font-size="16.2" fill="#fff" textLength="51.200000000000045" lengthAdjust="spacingAndGlyphs">1.13041</text>
<rect x="1384" y="282" width="71" height="22" fill="#F44336"/>
<rect x="1385" y="293" width="4" height="1" fill="#fff"/>
<text x="1395.2" y="298.3" font-size="16.2" fill="#fff" textLength="51.200000000000045" lengthAdjust="spacingAndGlyphs">1.12309</text>
<rect x="1384" y="414" width="71" height="22" fill="#FF0000"/>
<rect x="1385" y="425" width="4" height="1" fill="#fff"/>
<text x="1395.2" y="430.3" font-size="16.2" fill="#fff" textLength="51.200000000000045" lengthAdjust="spacingAndGlyphs">1.10600</text>
<rect x="1385" y="565" width="4" height="1" fill="#50535E"/>
<text x="1395.3" y="571.6" font-size="14.5" fill="#50535E" textLength="45.200000000000045" lengthAdjust="spacingAndGlyphs">-11.6M</text>
<rect x="1385" y="620" width="4" height="1" fill="#50535E"/>
<text x="1395.3" y="626.6" font-size="14.5" fill="#50535E" textLength="45.200000000000045" lengthAdjust="spacingAndGlyphs">-11.8M</text>
<rect x="1385" y="675" width="4" height="1" fill="#50535E"/>
<text x="1395.3" y="681.6" font-size="14.5" fill="#50535E" textLength="31.700000000000045" lengthAdjust="spacingAndGlyphs">-12M</text>
<rect x="1385" y="731" width="4" height="1" fill="#50535E"/>
<text x="1395.3" y="737.6" font-size="14.5" fill="#50535E" textLength="45.200000000000045" lengthAdjust="spacingAndGlyphs">-12.2M</text>
<rect x="48" y="780" width="1" height="4" fill="#50535E"/>
<text x="35.5" y="804" font-size="16.5" fill="#50535E" font-weight="bold" textLength="26.0" lengthAdjust="spacingAndGlyphs">Jun</text>
<rect x="165" y="780" width="1" height="4" fill="#50535E"/>
<text x="147.8" y="804" font-size="16.5" fill="#50535E" textLength="35.39999999999998" lengthAdjust="spacingAndGlyphs">15:00</text>
<rect x="282" y="780" width="1" height="4" fill="#50535E"/>
<text x="278.5" y="804" font-size="16.5" fill="#50535E" textLength="8.0" lengthAdjust="spacingAndGlyphs">8</text>
<rect x="399" y="780" width="1" height="4" fill="#50535E"/>
<text x="381.8" y="804" font-size="16.5" fill="#50535E" textLength="35.39999999999998" lengthAdjust="spacingAndGlyphs">15:00</text>
<rect x="516" y="780" width="1" height="4" fill="#50535E"/>
<text x="508.2" y="804" font-size="16.5" fill="#50535E" textLength="16.599999999999966" lengthAdjust="spacingAndGlyphs">15</text>
<rect x="633" y="780" width="1" height="4" fill="#50535E"/>
<text x="615.8" y="804" font-size="16.5" fill="#50535E" textLength="35.40000000000009" lengthAdjust="spacingAndGlyphs">15:00</text>
<rect x="750" y="780" width="1" height="4" fill="#50535E"/>
<text x="742.2" y="804" font-size="16.5" fill="#50535E" textLength="16.59999999999991" lengthAdjust="spacingAndGlyphs">22</text>
<rect x="890" y="780" width="1" height="4" fill="#50535E"/>
<text x="882.2" y="804" font-size="16.5" fill="#50535E" textLength="16.59999999999991" lengthAdjust="spacingAndGlyphs">25</text>
<rect x="1077" y="780" width="1" height="4" fill="#50535E"/>
<text x="1067.5" y="804" font-size="16.5" fill="#50535E" font-weight="bold" textLength="20.0" lengthAdjust="spacingAndGlyphs">Jul</text>
<rect x="1218" y="780" width="1" height="4" fill="#50535E"/>
<text x="1214.5" y="804" font-size="16.5" fill="#50535E" textLength="8.0" lengthAdjust="spacingAndGlyphs">6</text>
<rect x="1335" y="780" width="1" height="4" fill="#50535E"/>
<text x="1317.8" y="804" font-size="16.5" fill="#50535E" textLength="35.40000000000009" lengthAdjust="spacingAndGlyphs">15:00</text>
<text x="9" y="19" font-size="17" fill="#131722" font-weight="bold" textLength="120.80000000000001" lengthAdjust="spacingAndGlyphs">FX:EURUSD, 240</text>
<text x="136.5" y="19" font-size="17" fill="#131722" textLength="58.69999999999999" lengthAdjust="spacingAndGlyphs">1.13162</text>
<polygon points="198.8,17.9 211.2,17.9 205,6" fill="#26A69A"/>
<text x="216.2" y="19" font-size="17" fill="#131722" textLength="135.60000000000002" lengthAdjust="spacingAndGlyphs">+0.00614 (+0.55%)</text>
<text x="357.4" y="19" font-size="17" fill="#131722" font-weight="bold" textLength="16.400000000000034" lengthAdjust="spacingAndGlyphs">O:</text>
<text x="374.6" y="19" font-size="17" fill="#26A69A" textLength="59.19999999999999" lengthAdjust="spacingAndGlyphs">1.12853</text>
<text x="439.4" y="19" font-size="17" fill="#131722" font-weight="bold" textLength="16.80000000000001" lengthAdjust="spacingAndGlyphs">H:</text>
<text x="457" y="19" font-size="17" fill="#26A69A" textLength="58.200000000000045" lengthAdjust="spacingAndGlyphs">1.13326</text>
<text x="520.6" y="19" font-size="17" fill="#131722" font-weight="bold" textLength="14.100000000000023" lengthAdjust="spacingAndGlyphs">L:</text>
<text x="535.5" y="19" font-size="17" fill="#26A69A" textLength="56.700000000000045" lengthAdjust="spacingAndGlyphs">1.12821</text>
<text x="597.9" y="19" font-size="17" fill="#131722" font-weight="bold" textLength="16.800000000000068" lengthAdjust="spacingAndGlyphs">C:</text>
<text x="615.5" y="19" font-size="17" fill="#26A69A" textLength="57.5" lengthAdjust="spacingAndGlyphs">1.13162</text>
</svg></body></html>
